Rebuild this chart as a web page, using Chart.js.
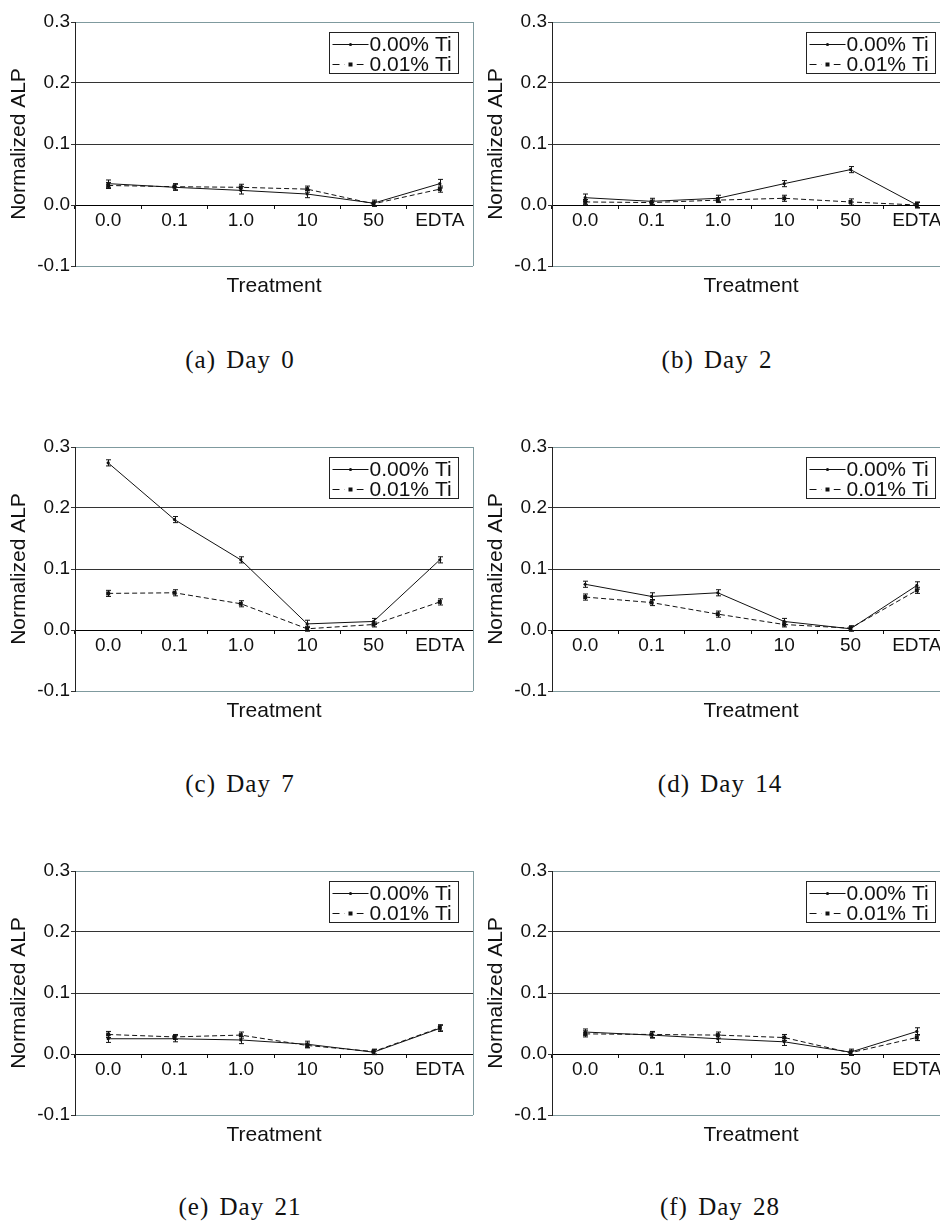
<!doctype html>
<html lang="en">
<head>
  <meta charset="utf-8" />
  <title>Normalized ALP by treatment</title>
  <style>
    html,body{margin:0;padding:0;background:#fff;overflow:hidden}
    body{width:940px;height:1222px;position:relative}
    .panel{position:absolute;width:480px;height:300px}
    .cap{position:absolute;width:300px;text-align:center;font-family:"Liberation Serif","Times New Roman",serif;font-size:25px;color:#111;letter-spacing:1px;word-spacing:3px;line-height:30px}
  </style>
  <script src="https://cdn.jsdelivr.net/npm/chart.js@4.4.1/dist/chart.umd.min.js"></script>
</head>
<body>
  <div class="panel" style="left:0;top:0"><canvas id="c0" width="480" height="300"></canvas></div>
  <div class="panel" style="left:477px;top:0"><canvas id="c1" width="480" height="300"></canvas></div>
  <div class="panel" style="left:0;top:425px"><canvas id="c2" width="480" height="300"></canvas></div>
  <div class="panel" style="left:477px;top:425px"><canvas id="c3" width="480" height="300"></canvas></div>
  <div class="panel" style="left:0;top:849px"><canvas id="c4" width="480" height="300"></canvas></div>
  <div class="panel" style="left:477px;top:849px"><canvas id="c5" width="480" height="300"></canvas></div>

  <div class="cap" style="left:90px;top:345px">(a) Day 0</div>
  <div class="cap" style="left:567px;top:345px">(b) Day 2</div>
  <div class="cap" style="left:90px;top:769px">(c) Day 7</div>
  <div class="cap" style="left:570px;top:769px">(d) Day 14</div>
  <div class="cap" style="left:90px;top:1192px">(e) Day 21</div>
  <div class="cap" style="left:570px;top:1192px">(f) Day 28</div>

<script>
// categories and series
const treatments = ["0.0", "0.1", "1.0", "10", "50", "EDTA"];
const seriesLabels = ["0.00% Ti", "0.01% Ti"];
const yTickValues = [-0.1, 0.0, 0.1, 0.2, 0.3];

// values (mean, error)
const day0Ti000 = [0.035, 0.029, 0.024, 0.018, 0.003, 0.035];
const day0Ti001 = [0.032, 0.030, 0.029, 0.026, 0.002, 0.026];
const day0Err000 = [0.006, 0.005, 0.006, 0.006, 0.005, 0.007];
const day0Err001 = [0.005, 0.005, 0.005, 0.005, 0.004, 0.005];

const day2Ti000 = [0.012, 0.006, 0.011, 0.035, 0.058, 0.000];
const day2Ti001 = [0.005, 0.004, 0.008, 0.011, 0.005, 0.000];
const day2Err000 = [0.006, 0.005, 0.005, 0.005, 0.005, 0.005];
const day2Err001 = [0.004, 0.004, 0.004, 0.005, 0.005, 0.004];

const day7Ti000 = [0.274, 0.181, 0.115, 0.010, 0.014, 0.115];
const day7Ti001 = [0.060, 0.061, 0.043, 0.002, 0.009, 0.046];
const day7Err000 = [0.005, 0.005, 0.005, 0.006, 0.005, 0.005];
const day7Err001 = [0.005, 0.005, 0.005, 0.004, 0.004, 0.005];

const day14Ti000 = [0.075, 0.055, 0.061, 0.014, 0.002, 0.073];
const day14Ti001 = [0.054, 0.045, 0.026, 0.009, 0.003, 0.065];
const day14Err000 = [0.005, 0.006, 0.005, 0.005, 0.004, 0.006];
const day14Err001 = [0.005, 0.005, 0.005, 0.004, 0.004, 0.005];

const day21Ti000 = [0.025, 0.025, 0.023, 0.016, 0.003, 0.042];
const day21Ti001 = [0.032, 0.028, 0.031, 0.014, 0.004, 0.043];
const day21Err000 = [0.006, 0.005, 0.006, 0.005, 0.004, 0.005];
const day21Err001 = [0.005, 0.004, 0.005, 0.004, 0.004, 0.005];

const day28Ti000 = [0.036, 0.031, 0.025, 0.020, 0.003, 0.037];
const day28Ti001 = [0.033, 0.032, 0.031, 0.027, 0.002, 0.027];
const day28Err000 = [0.005, 0.005, 0.006, 0.006, 0.005, 0.006];
const day28Err001 = [0.005, 0.005, 0.005, 0.005, 0.004, 0.005];

const SANS = "'Liberation Sans', Arial, Helvetica, sans-serif";
const BOX = "#7f9a9e";

// vertical error bars with small caps
const errorBars = {
  id: "errorBars",
  afterDatasetsDraw(chart, args, opts) {
    const {ctx, scales: {y}} = chart;
    ctx.save();
    ctx.strokeStyle = "#111";
    ctx.lineWidth = 1;
    chart.data.datasets.forEach((ds, i) => {
      const errs = opts.errors[i];
      chart.getDatasetMeta(i).data.forEach((pt, j) => {
        const x = Math.round(pt.x) + 0.5;
        const top = y.getPixelForValue(ds.data[j] + errs[j]);
        const bot = y.getPixelForValue(ds.data[j] - errs[j]);
        ctx.beginPath();
        ctx.moveTo(x, top); ctx.lineTo(x, bot);
        ctx.moveTo(x - 2.5, top); ctx.lineTo(x + 2.5, top);
        ctx.moveTo(x - 2.5, bot); ctx.lineTo(x + 2.5, bot);
        ctx.stroke();
      });
    });
    ctx.restore();
  }
};

// right edge of the plot frame
const frameEdge = {
  id: "frameEdge",
  beforeDatasetsDraw(chart) {
    const {ctx, chartArea: a} = chart;
    ctx.save();
    ctx.strokeStyle = BOX;
    ctx.lineWidth = 1;
    ctx.beginPath();
    ctx.moveTo(Math.round(a.right) + 0.5, a.top);
    ctx.lineTo(Math.round(a.right) + 0.5, a.bottom);
    ctx.stroke();
    ctx.restore();
  }
};

// boxed legend in the top right corner
const boxLegend = {
  id: "boxLegend",
  afterDraw(chart) {
    const {ctx, chartArea: a} = chart;
    const w = 129, h = 41;
    const left = Math.round(a.right - 15 - w) + 0.5, top = Math.round(a.top + 10) + 0.5;
    ctx.save();
    ctx.fillStyle = "#fff";
    ctx.fillRect(left, top, w, h);
    ctx.strokeStyle = "#222";
    ctx.lineWidth = 1;
    ctx.strokeRect(left, top, w, h);
    chart.data.datasets.forEach((ds, i) => {
      const cy = Math.round(top + 11 + i * 20) + 0.5;
      ctx.strokeStyle = "#111";
      ctx.setLineDash(ds.borderDash ? [7, 5] : []);
      ctx.beginPath();
      ctx.moveTo(left + 3, cy); ctx.lineTo(left + 39, cy);
      ctx.stroke();
      ctx.setLineDash([]);
      ctx.fillStyle = "#111";
      if (ds.pointStyle === "rect") { ctx.fillStyle = "#fff"; ctx.fillRect(left + 15, cy - 3, 12, 6); ctx.fillStyle = "#111"; ctx.fillRect(left + 19, cy - 2, 4, 4); }
      else { ctx.beginPath(); ctx.arc(left + 21, cy, 1.6, 0, Math.PI * 2); ctx.fill(); }
      ctx.font = "21px " + SANS;
      ctx.textBaseline = "middle";
      ctx.fillText(ds.label, left + 40, cy + 1);
    });
    ctx.restore();
  }
};

function gridColor(c) {
  const v = c.tick.value;
  if (Math.abs(v) < 1e-9) return "#111";
  if (Math.abs(v - 0.1) < 1e-9 || Math.abs(v - 0.2) < 1e-9) return "#333";
  return BOX;
}

function makePanel(id, ti0, ti1, err0, err1) {
  return new Chart(document.getElementById(id), {
    type: "line",
    data: {
      labels: treatments,
      datasets: [
        { label: seriesLabels[0], data: ti0, borderColor: "#111", backgroundColor: "#111", borderWidth: 1,
          pointStyle: "circle", pointRadius: 1.6, pointBorderWidth: 0, tension: 0 },
        { label: seriesLabels[1], data: ti1, borderColor: "#111", backgroundColor: "#111", borderWidth: 1,
          borderDash: [5, 3], pointStyle: "rect", pointRadius: 2.8, pointBorderWidth: 0, tension: 0 }
      ]
    },
    options: {
      responsive: false, animation: false, events: [],
      layout: { padding: { top: 22, right: 7, left: 0, bottom: 1 } },
      plugins: { legend: { display: false }, tooltip: { enabled: false }, errorBars: { errors: [err0, err1] } },
      scales: {
        x: {
          type: "category", position: { y: 0 }, offset: true,
          grid: { offset: true, drawOnChartArea: false, tickLength: 3, color: "#111" },
          border: { color: "#000" },
          ticks: { color: "#111", font: { family: SANS, size: 19 }, padding: 1, autoSkip: false, maxRotation: 0 }
        },
        xt: {
          type: "category", position: "bottom", offset: true,
          grid: { display: false }, border: { display: false }, ticks: { display: false },
          title: { display: true, text: "Treatment", color: "#111", font: { family: SANS, size: 21 }, padding: 0 },
          afterFit(s) { s.height = 33; }
        },
        y: {
          min: -0.1, max: 0.3,
          afterBuildTicks(s) { s.ticks = yTickValues.map(v => ({ value: v })); },
          ticks: { callback: v => v.toFixed(1), color: "#111", font: { family: SANS, size: 19 }, padding: 1 },
          grid: { color: gridColor, tickColor: "#333", tickLength: 4 },
          border: { color: "#222" },
          title: { display: true, text: "Normalized ALP", color: "#111", font: { family: SANS, size: 21 }, padding: { top: 7, bottom: 0 } },
          afterFit(s) { s.width = 75; }
        }
      }
    },
    plugins: [frameEdge, errorBars, boxLegend]
  });
}

makePanel("c0", day0Ti000, day0Ti001, day0Err000, day0Err001);
makePanel("c1", day2Ti000, day2Ti001, day2Err000, day2Err001);
makePanel("c2", day7Ti000, day7Ti001, day7Err000, day7Err001);
makePanel("c3", day14Ti000, day14Ti001, day14Err000, day14Err001);
makePanel("c4", day21Ti000, day21Ti001, day21Err000, day21Err001);
makePanel("c5", day28Ti000, day28Ti001, day28Err000, day28Err001);
</script>
</body>
</html>
